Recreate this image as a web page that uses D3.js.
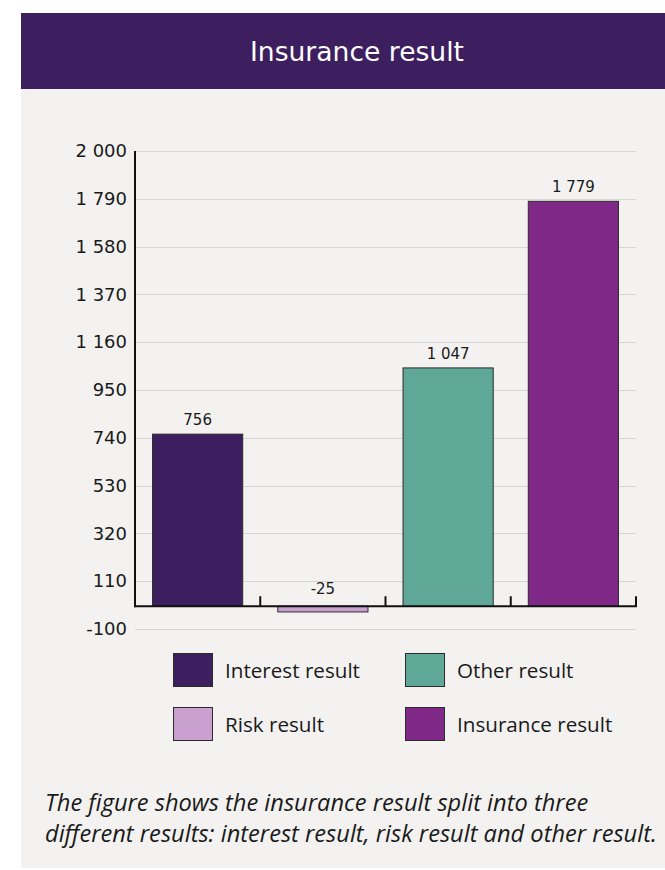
<!DOCTYPE html>
<html>
<head>
<meta charset="utf-8">
<script src="https://cdn.jsdelivr.net/npm/d3@7"></script>
<style>
  html, body { margin: 0; padding: 0; background: #ffffff; }
  svg { display: block; }
</style>
</head>
<body>
<svg id="chart" width="665" height="870"></svg>
<script>
// Insurance result broken down into its parts
const categories = ["Interest result", "Risk result", "Other result", "Insurance result"];
const values = [756, -25, 1047, 1779];
const colors = ["#3d1e5e", "#c9a0cf", "#5fa797", "#7f2887"];
const tickValues = [-100, 110, 320, 530, 740, 950, 1160, 1370, 1580, 1790, 2000];
const title = "Insurance result";
const captionLines = [
  "The figure shows the insurance result split into three",
  "different results: interest result, risk result and other result."
];

const locale = d3.formatLocale({ decimal: ",", thousands: " ", grouping: [3], currency: ["", " kr"], minus: "-" });
const fmt = locale.format(",d");

const bodyFont = "'Open Sans', 'Noto Sans', sans-serif";
const numFont = "'DejaVu Sans', Verdana, sans-serif";

// font size at which a text would render at the given width
function sizeForWidth(sel, width) {
  const size = parseFloat(sel.style("font-size"));
  return size * width / sel.node().getComputedTextLength();
}

const svg = d3.select("#chart");

// panel and header
svg.append("rect").attr("x", 21).attr("y", 13).attr("width", 644).attr("height", 855).attr("fill", "#f3f2f0");
svg.append("rect").attr("x", 21).attr("y", 13).attr("width", 644).attr("height", 76).attr("fill", "#3d1e5e");
const t = svg.append("text").attr("x", 357).attr("y", 61).attr("text-anchor", "middle")
  .attr("fill", "#ffffff").style("font-family", numFont).style("font-size", "24px")
  .text(title);
t.style("font-size", sizeForWidth(t, 214).toFixed(2) + "px");

const left = 135, right = 636;
const y = d3.scaleLinear().domain([-100, 2000]).range([629, 151]);
const x = d3.scaleBand().domain(categories).range([left, right]).paddingInner(0.28).paddingOuter(0.14);

const g = svg.append("g");

// gridlines
g.append("g").selectAll("line").data(tickValues).join("line")
  .attr("x1", left).attr("x2", right)
  .attr("y1", d => Math.round(y(d)) + 0.5).attr("y2", d => Math.round(y(d)) + 0.5)
  .attr("stroke", "#d6d5d3").attr("stroke-width", 1);

// y tick labels
const yAxis = d3.axisLeft(y).tickValues(tickValues).tickSize(0).tickPadding(8).tickFormat(fmt);
const ya = g.append("g").attr("transform", `translate(${left},0)`).call(yAxis);
ya.select(".domain").remove();
ya.selectAll("text").attr("fill", "#1a1a1a")
  .style("font-family", numFont).style("font-size", "18px");

// bars
g.append("g").selectAll("rect").data(values).join("rect")
  .attr("x", (d, i) => x(categories[i]))
  .attr("width", x.bandwidth())
  .attr("y", d => y(Math.max(0, d)))
  .attr("height", d => Math.abs(y(d) - y(0)))
  .attr("fill", (d, i) => colors[i])
  .attr("stroke", "#2b2b2b").attr("stroke-width", 1);

// value labels
g.append("g").selectAll("text").data(values).join("text")
  .attr("x", (d, i) => x(categories[i]) + x.bandwidth() / 2)
  .attr("y", d => d < 0 ? y(0) - 12 : y(d) - 9)
  .attr("text-anchor", "middle").attr("fill", "#1a1a1a")
  .style("font-family", numFont).style("font-size", "15px")
  .text(d => fmt(d));

// axes lines
const y0 = y(0);
g.append("line").attr("x1", left).attr("x2", left).attr("y1", y(2000)).attr("y2", y0 + 1)
  .attr("stroke", "#111").attr("stroke-width", 2);
g.append("line").attr("x1", left).attr("x2", right + 1).attr("y1", y0).attr("y2", y0)
  .attr("stroke", "#111").attr("stroke-width", 2);
// category boundary ticks
const bounds = categories.map((c, i) => left + (right - left) * (i + 1) / categories.length);
g.append("g").selectAll("line").data(bounds).join("line")
  .attr("x1", d => d).attr("x2", d => d).attr("y1", y0 - 10).attr("y2", y0)
  .attr("stroke", "#111").attr("stroke-width", 2);

// legend
const legendPos = [[173, 653], [405, 653], [173, 707], [405, 707]];
const legendOrder = [0, 2, 1, 3];
const lg = svg.append("g");
const legendTexts = legendOrder.map((ci, k) => {
  const [lx, ly] = legendPos[k];
  lg.append("rect").attr("x", lx + 0.5).attr("y", ly + 0.5).attr("width", 39).attr("height", 33)
    .attr("fill", colors[ci]).attr("stroke", "#2b2b2b").attr("stroke-width", 1);
  return lg.append("text").attr("x", lx + 52).attr("y", ly + 25)
    .attr("fill", "#1a1a1a")
    .style("font-family", bodyFont).style("font-size", "19px")
    .text(categories[ci]);
});
const legendSize = sizeForWidth(legendTexts[0], 135);
legendTexts.forEach(s => s.style("font-size", legendSize.toFixed(2) + "px"));

// caption
const capWidths = [563, 612];
const cap = svg.append("g").selectAll("text").data(captionLines).join("text")
  .attr("x", 45).attr("y", (d, i) => 811 + i * 31)
  .attr("fill", "#1a1a1a").style("font-style", "italic")
  .style("font-family", bodyFont).style("font-size", "20px")
  .text(d => d);
const capSize = d3.min(cap.nodes(), (n, i) => sizeForWidth(d3.select(n), capWidths[i]));
cap.style("font-size", capSize.toFixed(2) + "px");
</script>
</body>
</html>
